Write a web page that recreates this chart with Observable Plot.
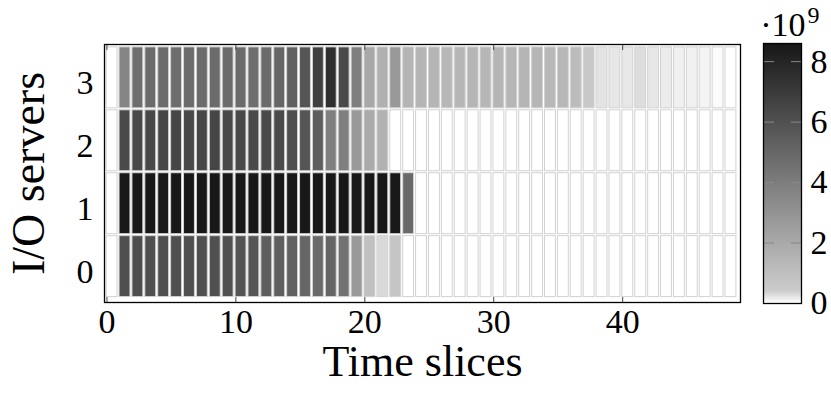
<!DOCTYPE html>
<html><head><meta charset="utf-8">
<script src="https://cdn.jsdelivr.net/npm/d3@7"></script>
<script src="https://cdn.jsdelivr.net/npm/@observablehq/plot@0.6"></script>
<style>
body{margin:0;background:#fff;}
#wrap{position:relative;width:831px;height:394px;}
#wrap svg{position:absolute;top:0;}
</style></head><body><div id="wrap"></div>
<script>
// Time slice indices (columns) and I/O server ids (rows)
const timeSlices = [0,1,2,3,4,5,6,7,8,9,10,11,12,13,14,15,16,17,18,19,20,21,22,23,24,25,26,27,28,29,30,31,32,33,34,35,36,37,38,39,40,41,42,43,44,45,46,47,48];
const servers = [0,1,2,3];
// values in units of 1e9, one per time slice
const server0 = [0,6.1,6.1,6.05,6.1,6.05,6.05,6.0,6.0,6.0,5.9,5.75,5.4,5.4,5.3,5.0,4.85,5.0,4.5,2.7,0.95,0.3,0.7,
  0,0,0,0,0,0,0,0,0,0,0,0,0,0,0,0,0,0,0,0,0,0,0,0,0,0];
const server1 = [0,8.55,8.55,8.55,8.55,8.55,8.55,8.55,8.55,8.55,8.55,8.55,8.55,8.55,8.55,8.55,8.55,8.55,8.55,8.55,8.55,8.55,8.55,4.9,
  0,0,0,0,0,0,0,0,0,0,0,0,0,0,0,0,0,0,0,0,0,0,0,0,0];
const server2 = [0,6.3,6.38,6.38,6.45,6.45,6.4,6.45,6.45,6.4,6.35,6.35,6.3,6.3,6.1,5.8,5.4,3.89,3.89,2.71,1.94,1.58,
  0,0,0,0,0,0,0,0,0,0,0,0,0,0,0,0,0,0,0,0,0,0,0,0,0,0,0];
const server3 = [0,3.62,4.66,4.79,4.79,4.66,4.79,4.79,4.79,4.79,4.79,4.66,4.79,5.02,5.29,5.79,6.74,7.51,6.29,3.89,2.03,1.67,2.71,
  1.44,1.44,1.44,1.35,1.4,1.44,1.4,1.44,1.4,1.44,1.44,1.3,1.35,1.12,0.6,0.22,0.19,0.19,0.27,0.19,0.15,0.12,0.12,0.09,0.03,0];
const rows = [server0, server1, server2, server3];
const xTicks = [0,10,20,30,40];
const yTicks = [0,1,2,3];
const cTicks = [0,2,4,6,8];
const cDashTicks = [2,4,6,8];
const xLabel = "Time slices";
const yLabel = "I/O servers";
const colorbarExp = "·10";
const colorbarSup = "9";

const cells = [];
servers.forEach(s => timeSlices.forEach(t => cells.push({t, s, v: rows[s][t] * 1e9})));

const font = "'Liberation Serif', 'DejaVu Serif', serif";
const colorOpts = {type: "linear", domain: [0, 0.4e9, 8.6e9], range: ["#ffffff", "#cccccc", "#171717"]};

const main = Plot.plot({
  width: 831, height: 394,
  marginLeft: 104, marginRight: 91, marginTop: 44, marginBottom: 92,
  style: {fontFamily: font, background: "transparent", overflow: "visible", color: "#000"},
  x: {domain: [-0.19, 49.14]},
  y: {domain: [-0.49, 3.61]},
  color: colorOpts,
  marks: [
    Plot.rect(cells, {x1: d => d.t - 0.1, x2: d => d.t + 0.9, y1: d => d.s - 0.42, y2: d => d.s + 0.58,
      fill: "v", stroke: "#d2d2d2", strokeWidth: 1, inset: 1}),
    Plot.frame({stroke: "#000", strokeWidth: 1.3}),
    Plot.axisX({ticks: xTicks, tickSize: 0, tickPadding: 6, fontSize: 34, label: null, tickFormat: d => String(d)}),
    Plot.axisX({ticks: xTicks, tickSize: -5, text: null, label: null, stroke: "#444"}),
    Plot.axisX({ticks: xTicks, anchor: "top", tickSize: -5, text: null, label: null, stroke: "#444"}),
    Plot.axisY({ticks: yTicks, tickSize: 0, tickPadding: 11, fontSize: 34, label: null, tickFormat: d => String(d)}),
    Plot.text([xLabel], {frameAnchor: "bottom", dy: 73, lineAnchor: "bottom", textAnchor: "middle", fontSize: 44, fill: "#000"}),
    Plot.text([yLabel], {frameAnchor: "left", dx: -75, rotate: -90, textAnchor: "middle", lineAnchor: "middle", fontSize: 46, fill: "#000"})
  ]
});

const barN = 260;
const cMax = 8.6e9;
const bar = d3.range(barN).map(i => ({y1: i * cMax / barN, y2: (i + 1) * cMax / barN}));
const cbar = Plot.plot({
  width: 91, height: 394,
  marginLeft: 23, marginRight: 30, marginTop: 43, marginBottom: 91,
  style: {fontFamily: font, background: "transparent", overflow: "visible", color: "#000"},
  x: {domain: [0, 1], axis: null},
  y: {domain: [0, cMax]},
  color: colorOpts,
  marks: [
    Plot.rect(bar, {x1: 0, x2: 1, y1: "y1", y2: "y2", fill: d => (d.y1 + d.y2) / 2, shapeRendering: "crispEdges"}),
    Plot.axisY({anchor: "left", ticks: cDashTicks.map(d => d * 1e9), tickSize: -11, text: null, label: null, stroke: "#888"}),
    Plot.axisY({anchor: "right", ticks: cDashTicks.map(d => d * 1e9), tickSize: -11, text: null, label: null, stroke: "#888"}),
    Plot.axisY({anchor: "right", ticks: cTicks.map(d => d * 1e9), tickSize: 0, tickPadding: 9, fontSize: 34, label: null, tickFormat: d => String(d / 1e9)}),
    Plot.frame({stroke: "#000", strokeWidth: 1.3}),
    Plot.text([colorbarExp], {frameAnchor: "top-right", dx: 4, dy: -8, lineAnchor: "bottom", textAnchor: "end", fontSize: 34, fill: "#000"}),
    Plot.text([colorbarSup], {frameAnchor: "top-right", dx: 6, dy: -21, lineAnchor: "bottom", textAnchor: "start", fontSize: 24, fill: "#000"})
  ]
});
cbar.style.left = "740px";
main.style.left = "0px";
const wrap = document.getElementById("wrap");
wrap.appendChild(main);
wrap.appendChild(cbar);
</script>
</body></html>
